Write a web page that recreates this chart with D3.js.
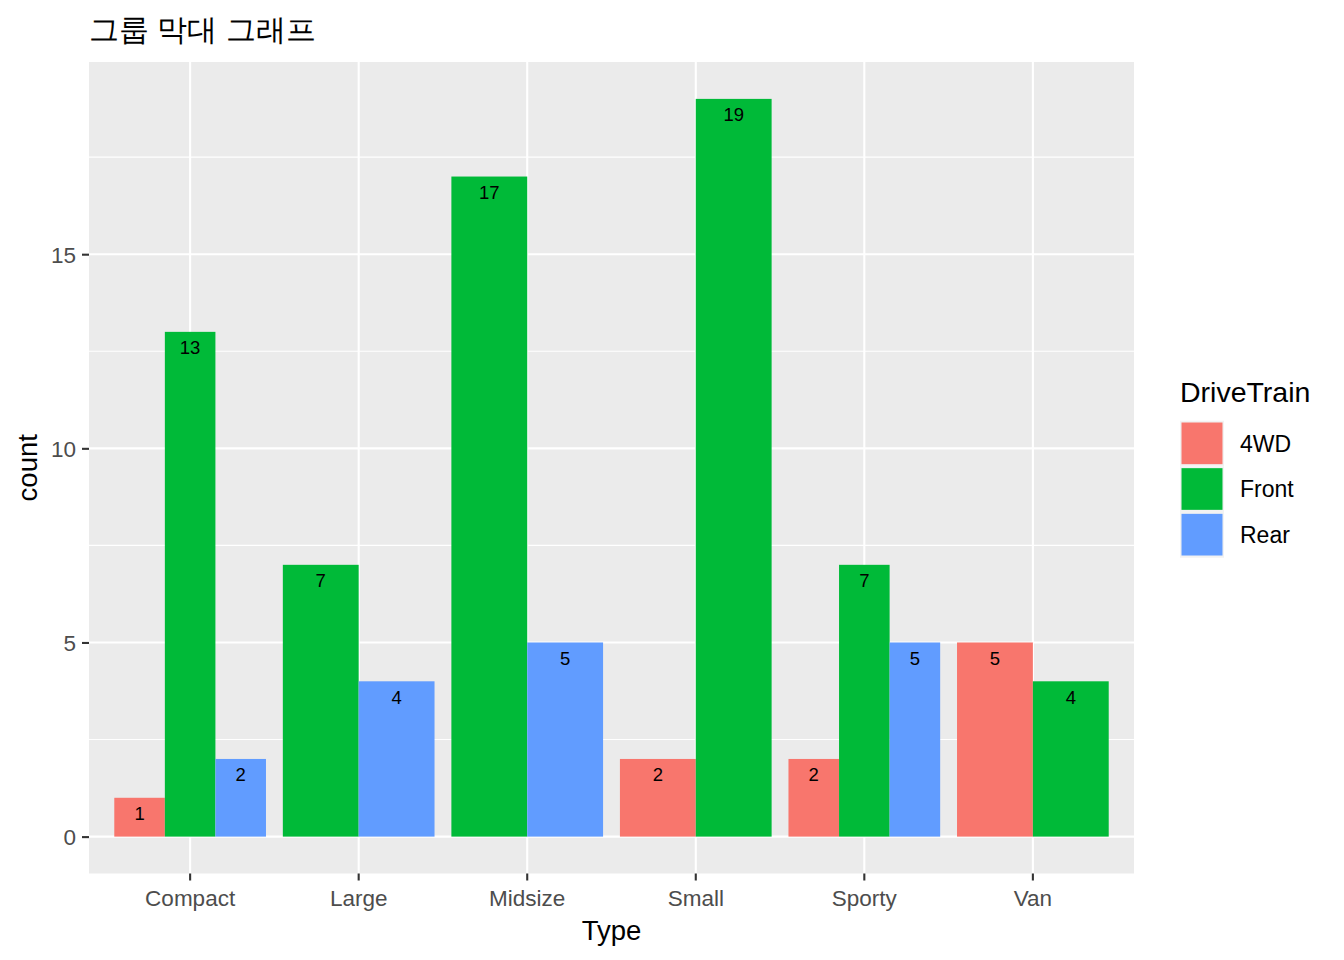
<!DOCTYPE html>
<html>
<head>
<meta charset="utf-8">
<script src="https://cdn.jsdelivr.net/npm/d3@7"></script>
<style>
  html, body { margin: 0; padding: 0; background: #fff; }
  svg { display: block; }
  text { font-family: "Liberation Sans", Arial, sans-serif; }
</style>
</head>
<body>
<script>
// ---- data ----
const categories = ["Compact", "Large", "Midsize", "Small", "Sporty", "Van"];
const driveTrains = ["4WD", "Front", "Rear"];
const count4WD   = [1, null, null, 2, 2, 5];
const countFront = [13, 7, 17, 19, 7, 4];
const countRear  = [2, 4, 5, null, 5, null];
const yTicks = [0, 5, 10, 15];
const colors = ["#F8766D", "#00BA38", "#619CFF"];
const titleText = "그룹 막대 그래프";
const xTitle = "Type";
const yTitle = "count";
const legendTitle = "DriveTrain";

const seriesValues = [count4WD, countFront, countRear];

const W = 1344, H = 960;
const panel = { left: 89, right: 1134, top: 62, bottom: 873.5 };

const svg = d3.select("body").append("svg").attr("width", W).attr("height", H);

const x = d3.scaleBand().domain(categories)
  .range([panel.left, panel.right]).paddingInner(0.1).paddingOuter(0.15);
const yMax = d3.max(seriesValues.flat().filter(v => v != null));
const yPad = yMax * 0.05;
const y = d3.scaleLinear().domain([-yPad, yMax + yPad]).range([panel.bottom, panel.top]);
const color = d3.scaleOrdinal().domain(driveTrains).range(colors);

// panel background
svg.append("rect").attr("x", panel.left).attr("y", panel.top)
  .attr("width", panel.right - panel.left).attr("height", panel.bottom - panel.top)
  .attr("fill", "#EBEBEB");

// minor grid
const minor = [];
for (let i = 0; i < yTicks.length; i++) {
  const m = yTicks[i] + 2.5;
  if (m < y.domain()[1]) minor.push(m);
}
svg.append("g").selectAll("line").data(minor).join("line")
  .attr("x1", panel.left).attr("x2", panel.right)
  .attr("y1", d => y(d)).attr("y2", d => y(d))
  .attr("stroke", "#fff").attr("stroke-width", 1.1);

// major grid
svg.append("g").selectAll("line").data(yTicks).join("line")
  .attr("x1", panel.left).attr("x2", panel.right)
  .attr("y1", d => y(d)).attr("y2", d => y(d))
  .attr("stroke", "#fff").attr("stroke-width", 2.1);
svg.append("g").selectAll("line").data(categories).join("line")
  .attr("x1", d => x(d) + x.bandwidth() / 2).attr("x2", d => x(d) + x.bandwidth() / 2)
  .attr("y1", panel.top).attr("y2", panel.bottom)
  .attr("stroke", "#fff").attr("stroke-width", 2.1);

// bars (dodge)
const bars = [];
categories.forEach((c, ci) => {
  const present = driveTrains.map((d, di) => ({ d, v: seriesValues[di][ci] })).filter(o => o.v != null);
  const w = x.bandwidth() / present.length;
  present.forEach((o, k) => {
    bars.push({ cat: c, dt: o.d, v: o.v, x0: x(c) + k * w, w });
  });
});
svg.append("g").selectAll("rect").data(bars).join("rect")
  .attr("x", d => d.x0).attr("width", d => d.w)
  .attr("y", d => y(d.v)).attr("height", d => y(0) - y(d.v))
  .attr("fill", d => color(d.dt));
svg.append("g").selectAll("text").data(bars).join("text")
  .attr("x", d => d.x0 + d.w / 2).attr("y", d => y(d.v) + 22.5)
  .attr("text-anchor", "middle").attr("font-size", 18.5).attr("fill", "#000")
  .text(d => d.v);

// y axis
const yAxis = d3.axisLeft(y).tickValues(yTicks).tickSize(7).tickPadding(6);
const gy = svg.append("g").attr("transform", `translate(${panel.left},0)`).call(yAxis);
gy.select(".domain").remove();
gy.selectAll(".tick line").attr("stroke", "#333333").attr("stroke-width", 2.1);
gy.selectAll(".tick text").attr("fill", "#4D4D4D").attr("font-size", 22.5)
  .attr("font-family", "Liberation Sans, Arial, sans-serif").attr("dy", "0.35em");

// x axis
const xAxis = d3.axisBottom(x).tickSize(7).tickPadding(6);
const gx = svg.append("g").attr("transform", `translate(0,${panel.bottom})`).call(xAxis);
gx.select(".domain").remove();
gx.selectAll(".tick line").attr("stroke", "#333333").attr("stroke-width", 2.1);
gx.selectAll(".tick text").attr("fill", "#4D4D4D").attr("font-size", 22.5)
  .attr("font-family", "Liberation Sans, Arial, sans-serif").attr("y", 0).attr("dy", 0)
  .attr("transform", "translate(0,32.5)");

// axis titles
svg.append("text").attr("x", (panel.left + panel.right) / 2).attr("y", 940)
  .attr("text-anchor", "middle").attr("font-size", 27.5).attr("fill", "#000").text(xTitle);
svg.append("text").attr("transform", `translate(37,${(panel.top + panel.bottom) / 2}) rotate(-90)`)
  .attr("text-anchor", "middle").attr("font-size", 27.5).attr("fill", "#000").text(yTitle);

// title
svg.append("text").attr("x", 89).attr("y", 40)
  .attr("font-family", "'Noto Sans CJK KR', sans-serif")
  .attr("font-size", 30).attr("fill", "#000").text(titleText);

// legend
const lg = svg.append("g");
lg.append("text").attr("x", 1180).attr("y", 402).attr("font-size", 28.5).attr("fill", "#000").text(legendTitle);
const keyH = 45.67, keyTop = 420.7, keyX = 1180, keyW = 44;
const items = lg.selectAll("g.item").data(driveTrains).join("g").attr("class", "item")
  .attr("transform", (d, i) => `translate(${keyX},${keyTop + i * keyH})`);
items.append("rect").attr("width", keyW).attr("height", keyH).attr("fill", "#F2F2F2");
items.append("rect").attr("x", 1.5).attr("y", 1.8).attr("width", keyW - 3).attr("height", keyH - 4)
  .attr("fill", d => color(d));
items.append("text").attr("x", 60).attr("y", keyH / 2).attr("dy", "0.35em")
  .attr("font-size", 23).attr("fill", "#000").text(d => d);
</script>
</body>
</html>
